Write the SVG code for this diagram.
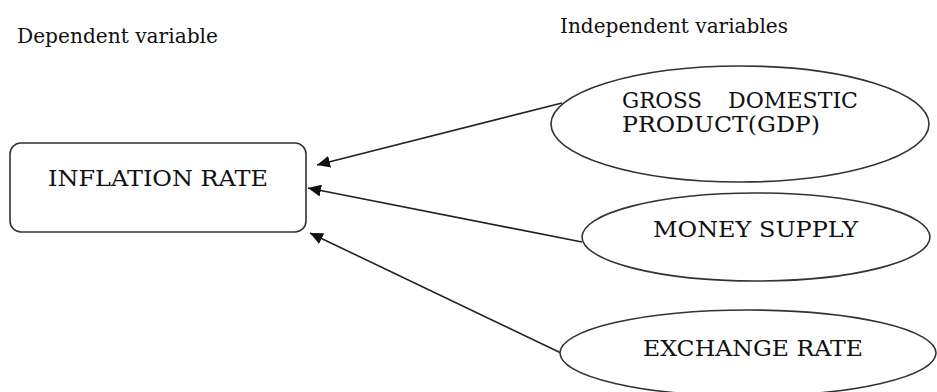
<svg xmlns="http://www.w3.org/2000/svg" width="937" height="392" viewBox="0 0 937 392">
<style>
  .shape { fill: #ffffff; stroke: #333333; stroke-width: 1.6; }
  .lbl { font-family: "DejaVu Serif", "Liberation Serif", serif; font-size: 22px; fill: #111111; }
  .hdr { font-family: "DejaVu Serif", "Liberation Serif", serif; font-size: 21px; fill: #111111; }
  .conn { stroke: #222222; stroke-width: 1.6; fill: none; marker-end: url(#arrow); }
</style>
<defs>
  <marker id="arrow" markerUnits="userSpaceOnUse" markerWidth="14" markerHeight="12" refX="13" refY="6" orient="auto">
    <path d="M0,0 L13,6 L0,12 Z" fill="#111111"/>
  </marker>
</defs>
<rect width="937" height="392" fill="#ffffff"/>
<text class="hdr" x="17" y="43" textLength="201" lengthAdjust="spacingAndGlyphs">Dependent variable</text>
<text class="hdr" x="560" y="33" textLength="228" lengthAdjust="spacingAndGlyphs">Independent variables</text>
<g id="connectors">
  <line class="conn" x1="562" y1="103" x2="317" y2="165"/>
  <line class="conn" x1="582" y1="242" x2="308" y2="188"/>
  <line class="conn" x1="561" y1="353" x2="310" y2="233"/>
</g>
<g id="inflation">
  <rect class="shape" x="10" y="143" width="296" height="89" rx="11" ry="11"/>
  <text class="lbl" x="48" y="186" textLength="220" lengthAdjust="spacingAndGlyphs">INFLATION RATE</text>
</g>
<g id="gdp">
  <ellipse class="shape" cx="740" cy="124" rx="189" ry="58"/>
  <text class="lbl" x="622" y="108" textLength="80" lengthAdjust="spacingAndGlyphs">GROSS</text>
  <text class="lbl" x="728" y="108" textLength="130" lengthAdjust="spacingAndGlyphs">DOMESTIC</text>
  <text class="lbl" x="622" y="132" textLength="198" lengthAdjust="spacingAndGlyphs">PRODUCT(GDP)</text>
</g>
<g id="money">
  <ellipse class="shape" cx="756" cy="237" rx="174" ry="44"/>
  <text class="lbl" x="653" y="237" textLength="205" lengthAdjust="spacingAndGlyphs">MONEY SUPPLY</text>
</g>
<g id="exchange">
  <ellipse class="shape" cx="748" cy="353" rx="188" ry="43"/>
  <text class="lbl" x="643" y="356" textLength="220" lengthAdjust="spacingAndGlyphs">EXCHANGE RATE</text>
</g>
</svg>
